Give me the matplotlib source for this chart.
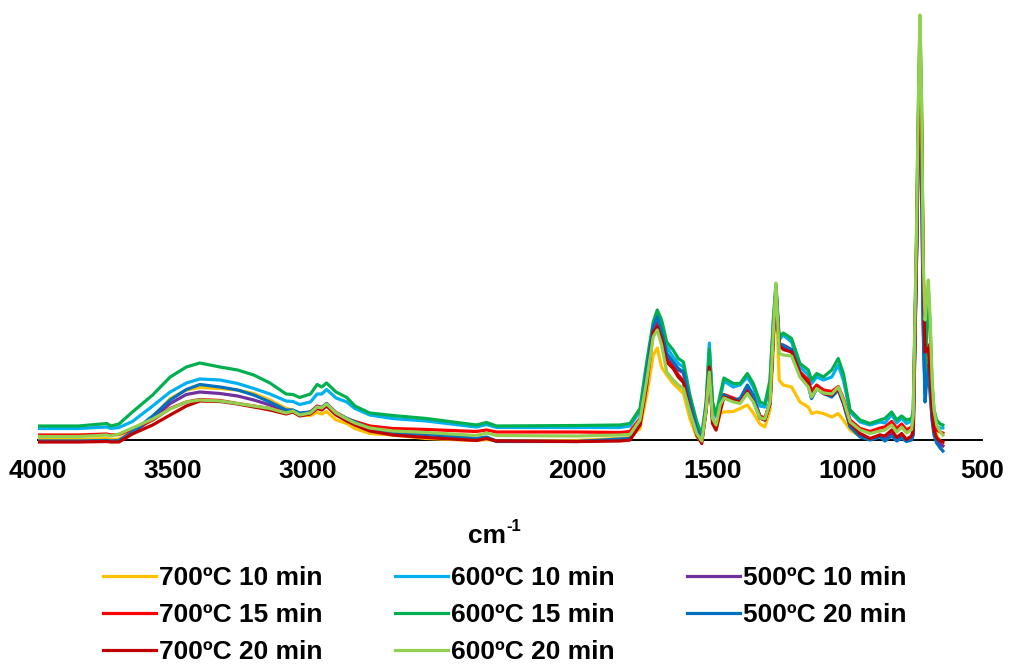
import matplotlib
matplotlib.use("Agg")
from matplotlib import pyplot as plt

plt.rcParams['font.family'] = ['Liberation Sans', 'DejaVu Sans']
plt.rcParams['font.weight'] = 'bold'

wavenumber = [
    4000, 3850, 3745, 3730, 3700, 3650, 3575, 3510, 3450, 3400, 3325, 3260, 3200, 3140, 3080,
    3055, 3030, 2990, 2965, 2948, 2930, 2895, 2855, 2825, 2770, 2685, 2560, 2375, 2337, 2300,
    2000, 1842, 1805, 1768, 1743, 1719, 1704, 1688, 1669, 1645, 1626, 1607, 1583, 1558, 1539,
    1523, 1511, 1499, 1486, 1471, 1457, 1422, 1397, 1370, 1348, 1323,
    1305, 1286, 1274, 1264, 1252, 1237, 1206, 1175, 1144, 1132, 1113, 1088, 1057, 1033, 1014,
    989, 952, 915, 878,
    860, 835, 816, 798, 780, 761, 755, 743, 737, 730, 724, 718, 711, 705, 699, 692, 685, 678,
    668, 655, 645,
]

# absorbance, arbitrary units
abs_700_10 = [
    0.5, 0.5, 1.5, 0.5, 1, 8, 22.5, 41.5, 50, 52.5, 51.5, 50, 46.5, 40, 31.5,
    30, 25, 24.5, 27.5, 26, 28.5, 20, 16.5, 11.5, 6.5, 5, 1.5, -0.5, 0.5, -1,
    -0.5, 1.5, 2.5, 11.5, 45, 85, 92, 73, 65, 56.5, 51.5, 46.5, 21.5, 3.5, -1.5,
    26.5, 65, 16.5, 10, 26.5, 28, 28.5, 31.5, 35, 27, 16,
    13, 30, 87, 150, 60, 55, 53, 38, 33, 26.5, 28, 26.5, 23, 26.5, 20, 10, 3.5, 1.5, 3.5,
    3.5, 6.5, 2.5, 5, 1.5, 3, 10, 195, 310, 415, 320, 165, 100, 125, 145, 105, 50, 20, 5, -2, -4,
]
abs_700_15 = [
    5, 5, 6, 5, 5.5, 10.5, 20, 31.5, 38, 40.5, 39.5, 36.5, 34, 31.5, 27.5,
    29, 26, 28, 34, 32.5, 36.5, 27.5, 21.5, 18.5, 14, 11.5, 10.5, 8.5, 10, 8,
    8, 7.5, 8.5, 21.5, 61.5, 110, 116.5, 103, 80, 73, 65, 59, 31.5, 8.5, -1,
    31.5, 75, 21.5, 13.5, 30, 45.5, 42, 39, 50, 41, 24,
    22, 38, 104, 152, 97, 92, 89, 68, 60, 48.5, 55, 50, 48.5, 53.5, 41.5, 20, 11.5, 8.5, 12,
    13, 18.5, 11.5, 16, 10, 13, 18, 190, 300, 405, 320, 170, 95, 95, 95, 70, 35, 16, 10, 8, 7,
]
abs_700_20 = [
    -2, -2, -1.5, -2, -2, 6, 15, 25, 34, 39, 38.5, 36, 33, 30, 26,
    28, 24, 26, 31.5, 30, 34, 25, 19, 15, 9, 5, 2.5, -0.5, 1.5, -1,
    -1.5, -1, 0, 15, 55, 108, 113, 101.5, 78, 71.5, 63, 57.5, 30, 5, -3.5,
    31.5, 73, 16.5, 10, 28, 43, 40, 38, 48, 39, 22,
    20, 36.5, 103, 150, 95, 90.5, 88, 66.5, 56.5, 45, 53, 46.5, 45, 51.5, 38, 16.5, 6.5, 1.5, 5,
    4, 10, 2.5, 6.5, 0.5, 4, 10, 185, 295, 395, 310, 160, 88, 90, 92, 65, 30, 10, 2, -1, -2,
]
abs_600_10 = [
    11.5, 11.5, 13, 11.5, 12.5, 18.5, 34, 48, 57, 61, 60, 56.5, 51.5, 46, 39,
    38.5, 35.5, 38, 46, 46, 50.5, 42, 38, 31.5, 25, 21.5, 19, 13, 15.5, 12.5,
    12.5, 12.5, 14, 29, 73, 115, 125, 115, 93, 83, 76.5, 73, 41.5, 16.5, 5,
    38, 97, 35, 23, 41.5, 59, 53, 55, 63, 53, 34,
    33, 56.5, 116, 154, 100, 105, 98, 73, 65, 56.5, 63, 60, 63, 75, 60, 28, 18, 15, 18,
    17, 25.5, 17, 22, 16.5, 19, 25, 185, 290, 385, 290, 130, 45, 70, 80, 55, 30, 18, 13, 12, 12,
]
abs_600_15 = [
    14, 14, 16.5, 14, 16, 28, 45, 63, 73, 77, 73, 70, 65, 57, 46,
    45.5, 42.5, 46, 55.5, 53, 57, 48, 42.5, 34, 27, 24.5, 21.5, 15, 17.5, 14,
    14.5, 15, 16.5, 31.5, 78, 118, 130, 120, 98, 90, 81.5, 78, 45, 18.5, 5,
    35, 91, 38, 25, 45, 62, 56.5, 56.5, 66.5, 56.5, 38,
    36, 60, 120, 156, 103, 107, 101.5, 76.5, 70, 60, 66.5, 63, 70, 81.5, 66.5, 30, 20, 16.5, 20,
    21.5, 28, 20, 24, 20, 21.5, 30, 200, 315, 420, 335, 170, 60, 110, 150, 110, 55, 30, 20, 16, 15,
]
abs_600_20 = [
    3.5, 3.5, 5, 4, 6, 12, 21, 31, 38, 40, 39, 36.5, 34, 31.5, 27,
    29, 25, 27, 33, 32, 36, 27, 21, 17, 12, 9, 7.5, 4.5, 7, 4.5,
    4, 5, 5.5, 20, 60, 103, 110, 95, 68, 60, 55, 51.5, 28, 6.5, -1,
    30, 68, 21.5, 15, 35, 42, 38, 36.5, 46.5, 38, 22,
    21, 38, 106, 157, 86.5, 85, 84, 63, 53, 43, 51.5, 47, 46, 53, 40, 18, 10, 6.5, 9,
    10, 15, 8, 13, 7, 10.5, 25, 207, 323, 425, 340, 180, 120, 140, 160, 120, 60, 30, 15, 8, 5,
]
abs_500_10 = [
    -1.5, -1.5, -1, -1.5, -1, 7, 21.5, 36.5, 45.5, 48, 46.5, 44, 40, 35, 29,
    29.5, 26, 27.5, 32, 32, 35.5, 26.5, 21, 17.5, 11, 7.5, 5.5, 1, 2.5, -1.5,
    -1.5, 0, 0.5, 16, 65, 111.5, 120, 105, 83, 75, 70, 67.5, 36.5, 10, -1,
    30, 67, 20, 12.5, 31.5, 43, 38.5, 40, 53, 43, 22,
    20, 36.5, 104, 150, 96, 95, 90.5, 67, 55, 42, 52.5, 47, 44, 50.5, 37, 14, 4, 0.5, 5,
    0, 6, 0, 3.5, -0.5, 1, 6, 178, 280, 375, 280, 115, 50, 68, 75, 50, 22, 8, 0, -4, -6,
]
abs_500_20 = [
    -1, -1, -0.5, -1, -0.5, 8, 24, 40, 50.5, 55.5, 53, 50, 45, 38, 30,
    30, 27, 28, 33, 32.5, 36.5, 27, 21.5, 18, 11.5, 8, 6, 1.5, 3, -1,
    -1.5, 1, 1.5, 18, 68, 113, 123, 108, 86.5, 78, 71.5, 68, 38, 11.5, 0,
    30, 70, 21.5, 13, 33, 45, 40, 41.5, 55, 45, 23,
    20, 36.5, 105, 151, 96.5, 94, 90, 66.5, 55, 41.5, 51.5, 46.5, 43, 50, 36.5, 13, 3, 0, 3,
    -1, 4, -1, 2, -1.5, 0, 5, 175, 275, 365, 270, 110, 38, 60, 70, 45, 20, 5, -3, -8, -11,
]

# drawing order as in the original workbook (last one on top)
series = [
    ("700ºC 10 min", abs_700_10, "#FFC000"),
    ("600ºC 10 min", abs_600_10, "#00B0F0"),
    ("500ºC 10 min", abs_500_10, "#7030A0"),
    ("700ºC 15 min", abs_700_15, "#FF0000"),
    ("600ºC 15 min", abs_600_15, "#00B050"),
    ("500ºC 20 min", abs_500_20, "#0070C0"),
    ("700ºC 20 min", abs_700_20, "#C00000"),
    ("600ºC 20 min", abs_600_20, "#92D050"),
]
legend_order = [
    "700ºC 10 min", "700ºC 15 min", "700ºC 20 min",
    "600ºC 10 min", "600ºC 15 min", "600ºC 20 min",
    "500ºC 10 min", "500ºC 20 min",
]

fig = plt.figure(figsize=(10.1, 6.64), dpi=100)
ax = fig.add_axes([38 / 1010, 1 - 455 / 664, 944 / 1010, 445 / 664])

lines = {}
for label, values, color in series:
    (ln,) = ax.plot(wavenumber, values, color=color, linewidth=2.3, label=label,
                    solid_joinstyle='round')
    lines[label] = ln

ax.set_xlim(4000, 500)
ax.set_ylim(-15, 430)
ax.set_xticks([4000, 3500, 3000, 2500, 2000, 1500, 1000, 500])
ax.set_yticks([])
for side in ('left', 'right', 'top'):
    ax.spines[side].set_visible(False)
ax.spines['bottom'].set_position(('data', 0))
ax.spines['bottom'].set_linewidth(1.4)
ax.spines['bottom'].set_zorder(0.5)
ax.tick_params(axis='x', length=0, pad=14, labelsize=19)
for t in ax.get_xticklabels():
    t.set_fontweight('bold')

# axis title "cm-1" with a plain hyphen in the superscript
fig.text(506 / 1010, 1 - 543 / 664, 'cm', ha='right', va='baseline',
         fontsize=19, fontweight='bold')
fig.text(506 / 1010, 1 - 531 / 664, '-1', ha='left', va='baseline',
         fontsize=12, fontweight='bold')

fig.legend([lines[k] for k in legend_order], legend_order, ncol=3, loc='center',
           bbox_to_anchor=(505 / 1010, 1 - 615 / 664), frameon=False,
           prop={'size': 19, 'weight': 'bold'}, handlelength=2.0, handletextpad=0.12,
           columnspacing=2.75, labelspacing=0.5, borderpad=0)

fig.savefig('out.png', dpi=100)
